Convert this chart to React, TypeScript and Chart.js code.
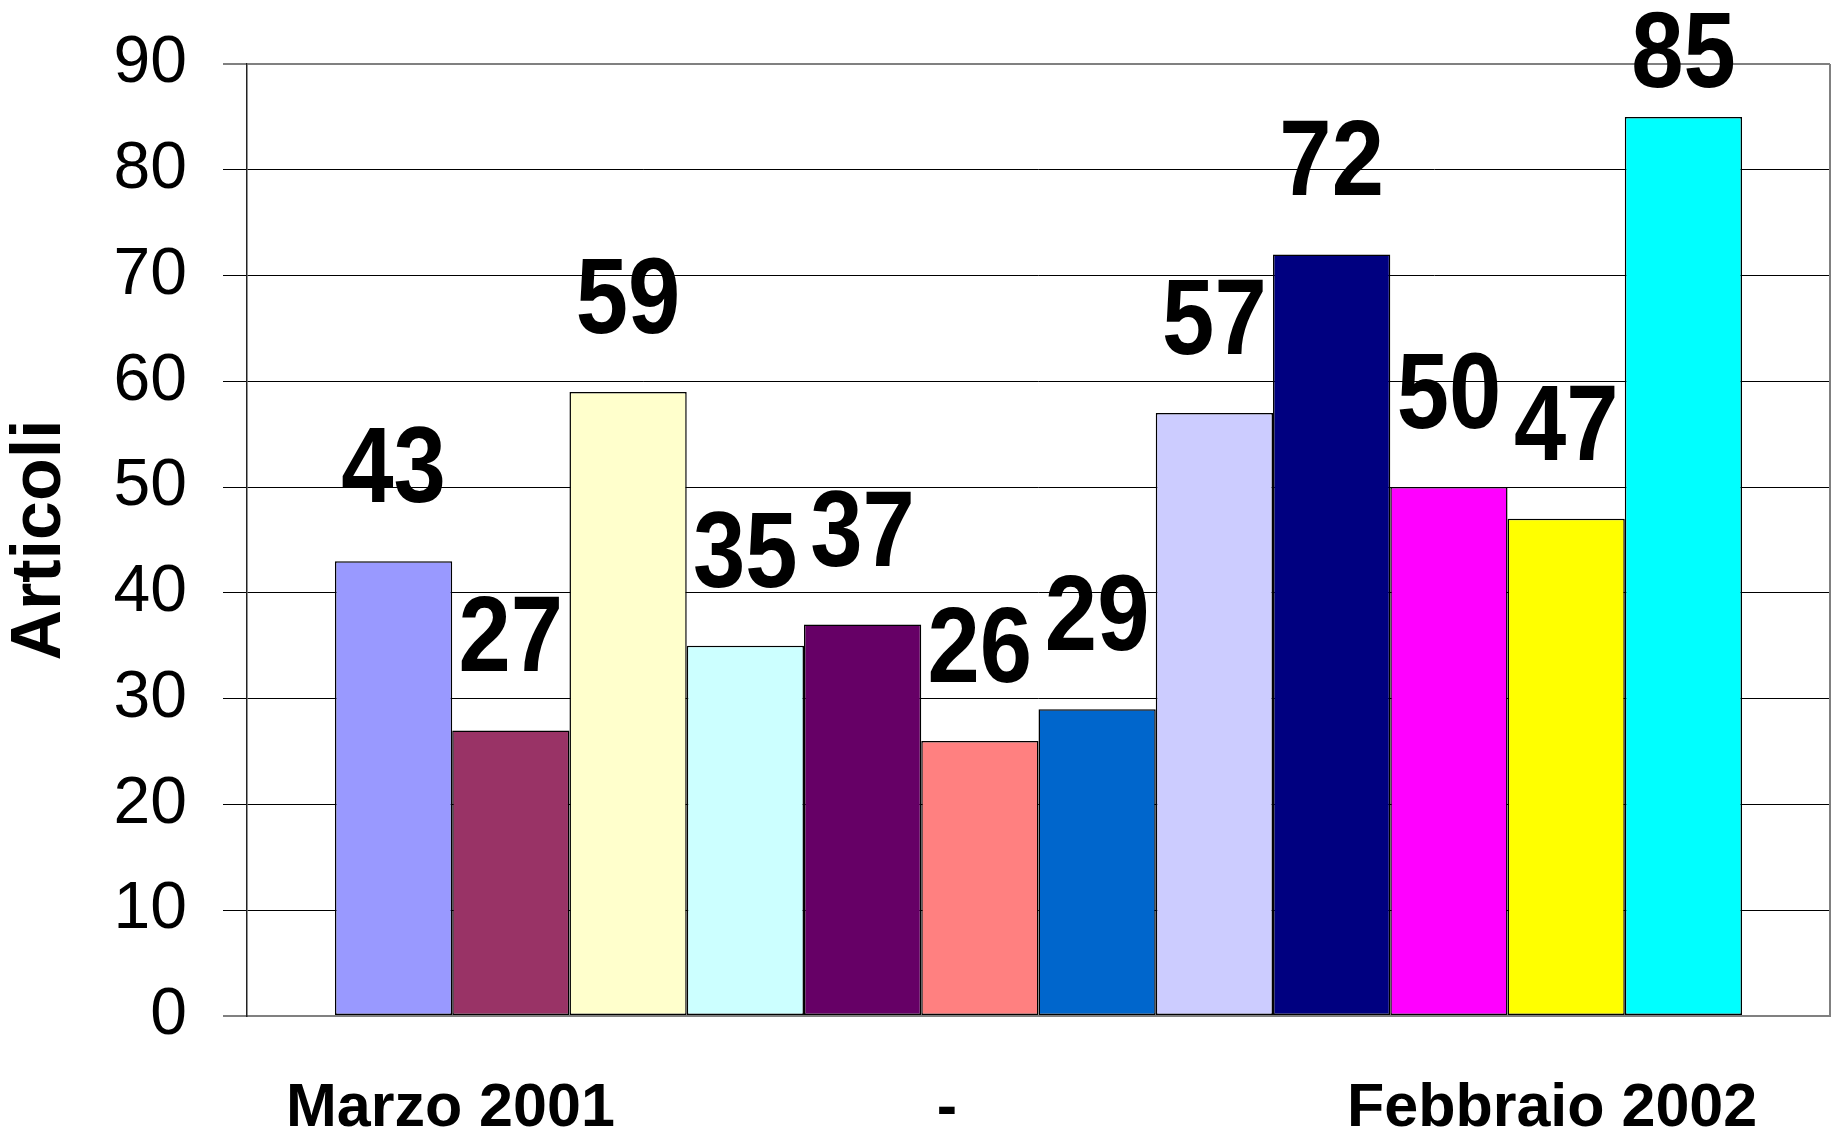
import React, { useEffect, useRef } from "react";
import { Chart, registerables } from "chart.js";

Chart.register(...registerables);

const FONT = "'Liberation Sans', Arial, Helvetica, sans-serif";

// Series: one bar per month, March 2001 - February 2002
const seriesNames = [
  "Marzo 2001",
  "Aprile 2001",
  "Maggio 2001",
  "Giugno 2001",
  "Luglio 2001",
  "Agosto 2001",
  "Settembre 2001",
  "Ottobre 2001",
  "Novembre 2001",
  "Dicembre 2001",
  "Gennaio 2002",
  "Febbraio 2002",
];
const seriesValues = [43, 27, 59, 35, 37, 26, 29, 57, 72, 50, 47, 85];
const seriesColors = [
  "#9999FF",
  "#993366",
  "#FFFFCC",
  "#CCFFFF",
  "#660066",
  "#FF8080",
  "#0066CC",
  "#CCCCFF",
  "#000080",
  "#FF00FF",
  "#FFFF00",
  "#00FFFF",
];

const periodStart = "Marzo 2001";
const periodEnd = "Febbraio 2002";
const categories = [periodStart + " ".repeat(19) + "-" + " ".repeat(23) + periodEnd + "  "];

const yTicks = [0, 10, 20, 30, 40, 50, 60, 70, 80, 90];
const yTitle = "Articoli";

const valueLabelPlugin = {
  id: "valueLabels",
  afterDatasetsDraw(chart: any) {
    const ctx = chart.ctx;
    const top = chart.chartArea.top;
    ctx.save();
    ctx.font = `bold 94px ${FONT}`;
    ctx.fillStyle = "#000";
    ctx.textAlign = "center";
    ctx.textBaseline = "alphabetic";
    chart.data.datasets.forEach((ds: any, i: number) => {
      const meta = chart.getDatasetMeta(i);
      meta.data.forEach((el: any, j: number) => {
        const v = ds.data[j];
        const baseline = Math.max(el.y - 59, top + 23);
        ctx.save();
        ctx.translate(el.x, baseline);
        ctx.scale(1, 1.14);
        ctx.fillText(String(v), 0, 0);
        ctx.restore();
      });
    });
    ctx.restore();
  },
};

const frameRightPlugin = {
  id: "frameRight",
  beforeDatasetsDraw(chart: any) {
    const { ctx, chartArea } = chart;
    ctx.save();
    ctx.strokeStyle = "#808080";
    ctx.lineWidth = 2;
    ctx.beginPath();
    ctx.moveTo(chartArea.right, chartArea.top);
    ctx.lineTo(chartArea.right, chartArea.bottom + 1);
    ctx.stroke();
    ctx.restore();
  },
};

export default function App() {
  const ref = useRef<HTMLCanvasElement | null>(null);

  useEffect(() => {
    if (!ref.current) return;
    const chart = new Chart(ref.current, {
      type: "bar",
      data: {
        labels: categories,
        datasets: seriesNames.map((name, i) => ({
          label: name,
          data: [seriesValues[i]],
          backgroundColor: seriesColors[i],
          borderColor: "#000",
          borderWidth: 1.5,
          borderSkipped: false,
          categoryPercentage: 12 / 13.5,
          barPercentage: 1,
        })),
      },
      options: {
        animation: false,
        responsive: true,
        maintainAspectRatio: false,
        layout: { padding: { left: 0, top: 64, right: 5, bottom: 0 } },
        plugins: {
          legend: { display: false },
          tooltip: { enabled: false },
          title: { display: false },
        },
        scales: {
          x: {
            type: "category",
            offset: true,
            grid: { display: true, drawOnChartArea: false, drawTicks: false, color: "rgba(0,0,0,0)" },
            border: { display: true, color: "#808080", width: 2 },
            ticks: {
              color: "#000",
              font: { family: FONT, size: 61, weight: "bold" },
              padding: 57,
              maxRotation: 0,
              minRotation: 0,
              autoSkip: false,
            },
            afterFit(scale: any) {
              scale.height = 120;
              scale.paddingLeft = 0;
              scale.paddingRight = 0;
            },
          },
          y: {
            type: "linear",
            min: 0,
            max: 90,
            afterBuildTicks(scale: any) {
              scale.ticks = yTicks.map((v) => ({ value: v }));
            },
            grid: {
              color: (c: any) => (c.tick && (c.tick.value === 90 || c.tick.value === 0) ? "#808080" : "#000"),
              lineWidth: (c: any) => (c.tick && (c.tick.value === 90 || c.tick.value === 0) ? 2 : 1),
              tickLength: 24,
              drawTicks: true,
            },
            border: { display: true, color: "#222", width: 1.5 },
            ticks: {
              color: "#000",
              font: { family: FONT, size: 66 },
              padding: 36,
              callback: (v: any) => String(v),
            },
            title: {
              display: true,
              text: yTitle,
              color: "#000",
              font: { family: FONT, size: 70, weight: "bold", lineHeight: 1.17 },
              padding: { top: 0, bottom: 0 },
            },
            afterFit(scale: any) {
              scale.width = 247;
              scale.paddingTop = 0;
              scale.paddingBottom = 0;
            },
          },
        },
      },
      plugins: [frameRightPlugin, valueLabelPlugin],
    });
    return () => chart.destroy();
  }, []);

  return (
    <div style={{ position: "absolute", left: 0, top: 0, width: 1835, height: 1136, background: "#fff" }}>
      <canvas ref={ref} />
    </div>
  );
}
